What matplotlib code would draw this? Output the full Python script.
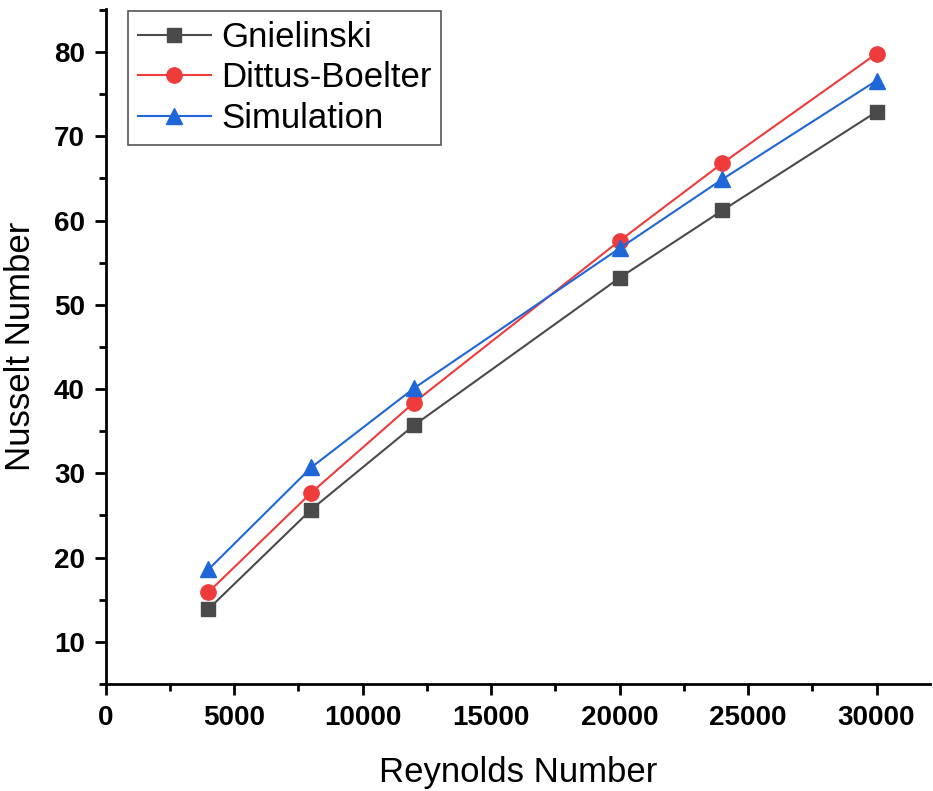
import matplotlib.pyplot as plt
from matplotlib.ticker import MultipleLocator

plt.rcParams['font.family'] = ['Liberation Sans', 'DejaVu Sans']

reynolds = [4000, 8000, 12000, 20000, 24000, 30000]
gnielinski = [13.9, 25.7, 35.7, 53.2, 61.2, 72.9]
dittus_boelter = [15.9, 27.7, 38.4, 57.6, 66.8, 79.8]
simulation = [18.6, 30.7, 40.1, 56.7, 64.9, 76.6]

fig = plt.figure(figsize=(9.33, 7.91), dpi=100)
ax = fig.add_axes([0.1133, 0.1353, 0.884, 0.8533])

ax.plot(reynolds, gnielinski, color='#4a4a4a', marker='s', markersize=10, lw=1.5, label='Gnielinski')
ax.plot(reynolds, dittus_boelter, color='#ee3b3b', marker='o', markersize=11, lw=1.5, label='Dittus-Boelter')
ax.plot(reynolds, simulation, color='#1f66d9', marker='^', markersize=12, lw=1.5, label='Simulation')

ax.set_xlim(0, 32100)
ax.set_ylim(5, 85.1)
ax.xaxis.set_major_locator(MultipleLocator(5000))
ax.xaxis.set_minor_locator(MultipleLocator(2500))
ax.yaxis.set_major_locator(MultipleLocator(10))
ax.yaxis.set_minor_locator(MultipleLocator(5))

for s in ['top', 'right']:
    ax.spines[s].set_visible(False)
for s in ['left', 'bottom']:
    ax.spines[s].set_linewidth(2)

ax.tick_params(which='major', direction='out', length=8, width=2, labelsize=20, pad=7)
ax.tick_params(which='minor', direction='out', length=5, width=2)
for lab in ax.get_xticklabels() + ax.get_yticklabels():
    lab.set_fontweight('bold')

ax.set_xlabel('Reynolds Number', fontsize=25, labelpad=18)
ax.set_ylabel('Nusselt Number', fontsize=25, labelpad=12)

leg = ax.legend(loc='upper left', bbox_to_anchor=(0.027, 0.997), fontsize=25, fancybox=False,
                edgecolor='#555555', framealpha=1, handlelength=2.1, borderpad=0.28,
                labelspacing=0.22, handletextpad=0.3, borderaxespad=0.0)
leg.get_frame().set_linewidth(1.2)

fig.savefig('out.png', dpi=100)
